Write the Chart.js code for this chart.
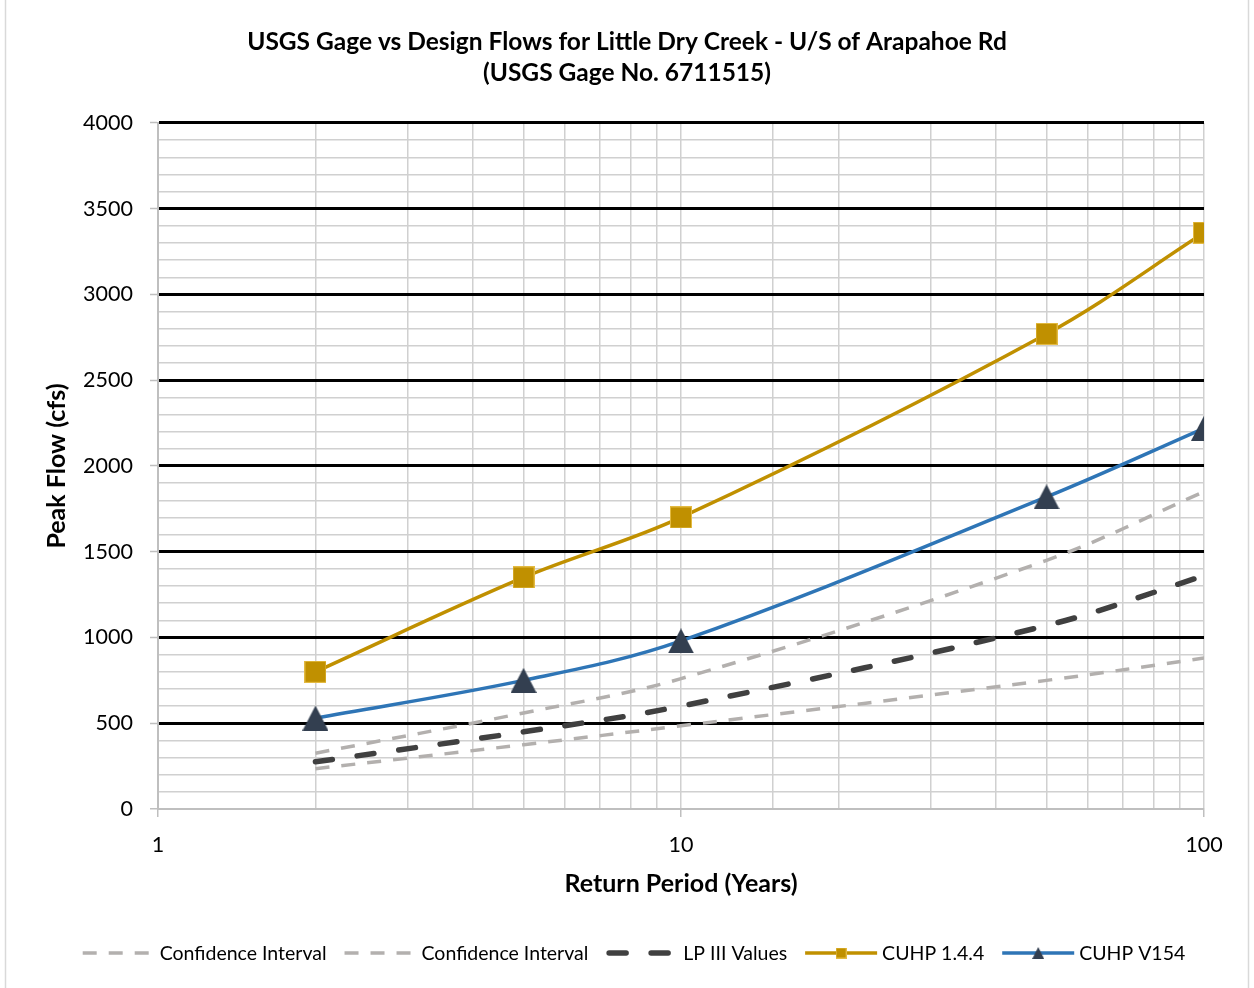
<!DOCTYPE html>
<html>
<head>
<meta charset="utf-8">
<title>USGS Gage vs Design Flows - Little Dry Creek</title>
<script src="https://cdn.jsdelivr.net/npm/chart.js@4.4.1/dist/chart.umd.min.js"></script>
<style>
  html, body { margin: 0; padding: 0; background: #ffffff; }
  #wrap { width: 1254px; height: 988px; position: relative; }
  canvas { display: block; }
</style>
</head>
<body>
<div id="wrap"><canvas id="chart" width="1254" height="988"></canvas></div>
<script>
// Return periods (years) at which flows were computed
const returnPeriods = [2, 5, 10, 50, 100];

// Peak flows (cfs)
const ciUpper = [325, 560, 760, 1450, 1850];
const ciLower = [235, 375, 485, 750, 880];
const lp3Values = [275, 450, 600, 1070, 1360];
const cuhp144 = [800, 1350, 1700, 2770, 3360];
const cuhpV154 = [530, 750, 980, 1820, 2220];

// Axis settings
const yMin = 0, yMax = 4000, yMinorStep = 100, yMajorStep = 500;
const xMin = 1, xMax = 100;

const seriesNames = ['Confidence Interval', 'Confidence Interval', 'LP III Values', 'CUHP 1.4.4', 'CUHP V154'];

const FONT = 'Lato, "Open Sans", "DejaVu Sans", sans-serif';

function pts(values) {
  return returnPeriods.map((x, i) => ({ x: x, y: values[i] }));
}

// Marker images
function squareMarker(side, fill) {
  const c = document.createElement('canvas');
  c.width = side; c.height = side;
  const g = c.getContext('2d');
  g.fillStyle = fill;
  g.fillRect(0, 0, side, side);
  g.strokeStyle = 'rgba(255,220,120,0.55)';
  g.lineWidth = 1;
  g.strokeRect(0.5, 0.5, side - 1, side - 1);
  return c;
}
function triangleMarker(w, h, fill) {
  const c = document.createElement('canvas');
  c.width = w; c.height = h;
  const g = c.getContext('2d');
  g.fillStyle = fill;
  g.beginPath();
  g.moveTo(w / 2, 0);
  g.lineTo(w, h);
  g.lineTo(0, h);
  g.closePath();
  g.fill();
  return c;
}

const GOLD = '#C09000';
const BLUE = '#2E75B6';
const NAVY = '#333F50';
const CI_GRAY = '#B3B0AE';
const LP_DARK = '#404040';

const sqBig = squareMarker(22, GOLD);
const triBig = triangleMarker(26, 25, NAVY);
const sqSmall = squareMarker(11, GOLD);
const triSmall = triangleMarker(12, 12, NAVY);

const datasets = [
  {
    label: seriesNames[0], data: pts(ciUpper),
    borderColor: CI_GRAY, borderWidth: 3.5, borderDash: [14, 12], borderCapStyle: 'butt',
    pointRadius: 0, tension: 0.35, order: 5
  },
  {
    label: seriesNames[1], data: pts(ciLower),
    borderColor: CI_GRAY, borderWidth: 3.5, borderDash: [14, 12], borderCapStyle: 'butt',
    pointRadius: 0, tension: 0.35, order: 4
  },
  {
    label: seriesNames[2], data: pts(lp3Values),
    borderColor: LP_DARK, borderWidth: 5.5, borderDash: [17, 25], borderCapStyle: 'round',
    pointRadius: 0, tension: 0.35, order: 3
  },
  {
    label: seriesNames[3], data: pts(cuhp144),
    borderColor: GOLD, borderWidth: 3.5, pointStyle: sqBig, pointRadius: 11,
    tension: 0.35, order: 2, legendMarker: sqSmall
  },
  {
    label: seriesNames[4], data: pts(cuhpV154),
    borderColor: BLUE, borderWidth: 3.5, pointStyle: triBig, pointRadius: 13,
    tension: 0.35, order: 1, legendMarker: triSmall
  }
];

// Light outer frame around the chart
const framePlugin = {
  id: 'frame',
  beforeDraw(chart) {
    const g = chart.ctx;
    g.save();
    g.fillStyle = '#ffffff';
    g.fillRect(0, 0, chart.width, chart.height);
    g.strokeStyle = '#D9D9D9';
    g.lineWidth = 1.5;
    g.strokeRect(5.5, -2, chart.width - 11, chart.height + 4);
    g.restore();
  }
};

// Legend drawn under the x axis: line sample + optional marker + label
const lineLegend = {
  id: 'lineLegend',
  afterDraw(chart) {
    const g = chart.ctx;
    const sampleLen = 72, textGap = 5, itemGap = 18;
    const cy = 953;
    g.save();
    g.font = '19.5px ' + FONT;
    g.textBaseline = 'middle';
    g.textAlign = 'left';
    const items = chart.data.datasets.map(ds => ({ ds, w: g.measureText(ds.label).width }));
    const total = items.reduce((s, it) => s + sampleLen + textGap + it.w, 0) + itemGap * (items.length - 1);
    let x = 634 - total / 2;
    items.forEach(({ ds, w }) => {
      g.save();
      g.strokeStyle = ds.borderColor;
      g.lineWidth = ds.borderWidth;
      g.lineCap = ds.borderCapStyle || 'butt';
      g.setLineDash(ds.borderDash || []);
      g.beginPath();
      const inset = g.lineCap === 'round' ? ds.borderWidth / 2 : 0;
      g.moveTo(x + inset, cy);
      g.lineTo(x + sampleLen - inset, cy);
      g.stroke();
      g.restore();
      if (ds.legendMarker) {
        const m = ds.legendMarker;
        g.drawImage(m, x + sampleLen / 2 - m.width / 2, cy - m.height / 2);
      }
      g.fillStyle = '#000000';
      g.fillText(ds.label, x + sampleLen + textGap, cy + 1);
      x += sampleLen + textGap + w + itemGap;
    });
    g.restore();
  }
};

function isDecade(v) {
  const l = Math.log10(v);
  return Math.abs(l - Math.round(l)) < 1e-9;
}

const chart = new Chart(document.getElementById('chart'), {
  type: 'line',
  data: { datasets },
  options: {
    responsive: false,
    devicePixelRatio: 1,
    animation: false,
    events: [],
    layout: { padding: { left: 0, right: 0, top: 0, bottom: 87 } },
    plugins: {
      legend: { display: false },
      tooltip: { enabled: false },
      title: {
        display: true,
        text: ['USGS Gage vs Design Flows for Little Dry Creek - U/S of Arapahoe Rd', '(USGS Gage No. 6711515)'],
        color: '#000000',
        font: { family: FONT, size: 24.5, weight: 'bold', lineHeight: 1.265 },
        padding: { top: 26.5, bottom: 34.5 }
      }
    },
    scales: {
      x: {
        type: 'logarithmic',
        position: 'bottom',
        min: xMin, max: xMax,
        afterFit(scale) { scale.height = 92; },
        grid: {
          z: -1,
          color: '#D0D0D0',
          lineWidth: 1.5,
          drawTicks: true,
          tickLength: 8,
          tickColor: ctx => (ctx.tick && isDecade(ctx.tick.value)) ? '#BFBFBF' : 'rgba(0,0,0,0)',
          tickWidth: 1.5
        },
        border: { display: true, color: '#BFBFBF', width: 2 },
        ticks: {
          autoSkip: false,
          maxRotation: 0,
          padding: 15,
          color: '#000000',
          font: { family: FONT, size: 21.5 },
          callback: v => isDecade(v) ? String(Math.round(v)) : ''
        },
        title: {
          display: true,
          text: 'Return Period (Years)',
          color: '#000000',
          font: { family: FONT, size: 25, weight: 'bold', lineHeight: 1.2 },
          padding: { top: 0, bottom: 2 }
        }
      },
      y: {
        type: 'linear',
        position: 'left',
        min: yMin, max: yMax,
        afterFit(scale) { scale.width = 158; },
        grid: {
          color: ctx => {
            const v = ctx.tick ? ctx.tick.value : 0;
            if (v === 0) return '#BFBFBF';
            return v % yMajorStep === 0 ? '#000000' : '#D0D0D0';
          },
          lineWidth: ctx => {
            const v = ctx.tick ? ctx.tick.value : 0;
            return (v !== 0 && v % yMajorStep === 0) ? 3 : 1.5;
          },
          drawTicks: true,
          tickLength: 8,
          tickColor: ctx => (ctx.tick && ctx.tick.value % yMajorStep === 0) ? '#BFBFBF' : 'rgba(0,0,0,0)',
          tickWidth: 1.5
        },
        border: { display: true, color: '#BFBFBF', width: 2 },
        ticks: {
          stepSize: yMinorStep,
          autoSkip: false,
          padding: 17,
          color: '#000000',
          font: { family: FONT, size: 21.5 },
          callback: v => v % yMajorStep === 0 ? String(v) : ''
        },
        title: {
          display: true,
          text: 'Peak Flow (cfs)',
          color: '#000000',
          font: { family: FONT, size: 25, weight: 'bold', lineHeight: 1.2 },
          padding: { top: 42, bottom: 0 }
        }
      },
      yRight: {
        type: 'linear',
        position: 'right',
        min: yMin, max: yMax,
        afterFit(scale) { scale.width = 50; },
        grid: { display: false, drawTicks: false },
        border: { display: false },
        ticks: { display: false }
      }
    }
  },
  plugins: [framePlugin, lineLegend]
});
</script>
</body>
</html>
